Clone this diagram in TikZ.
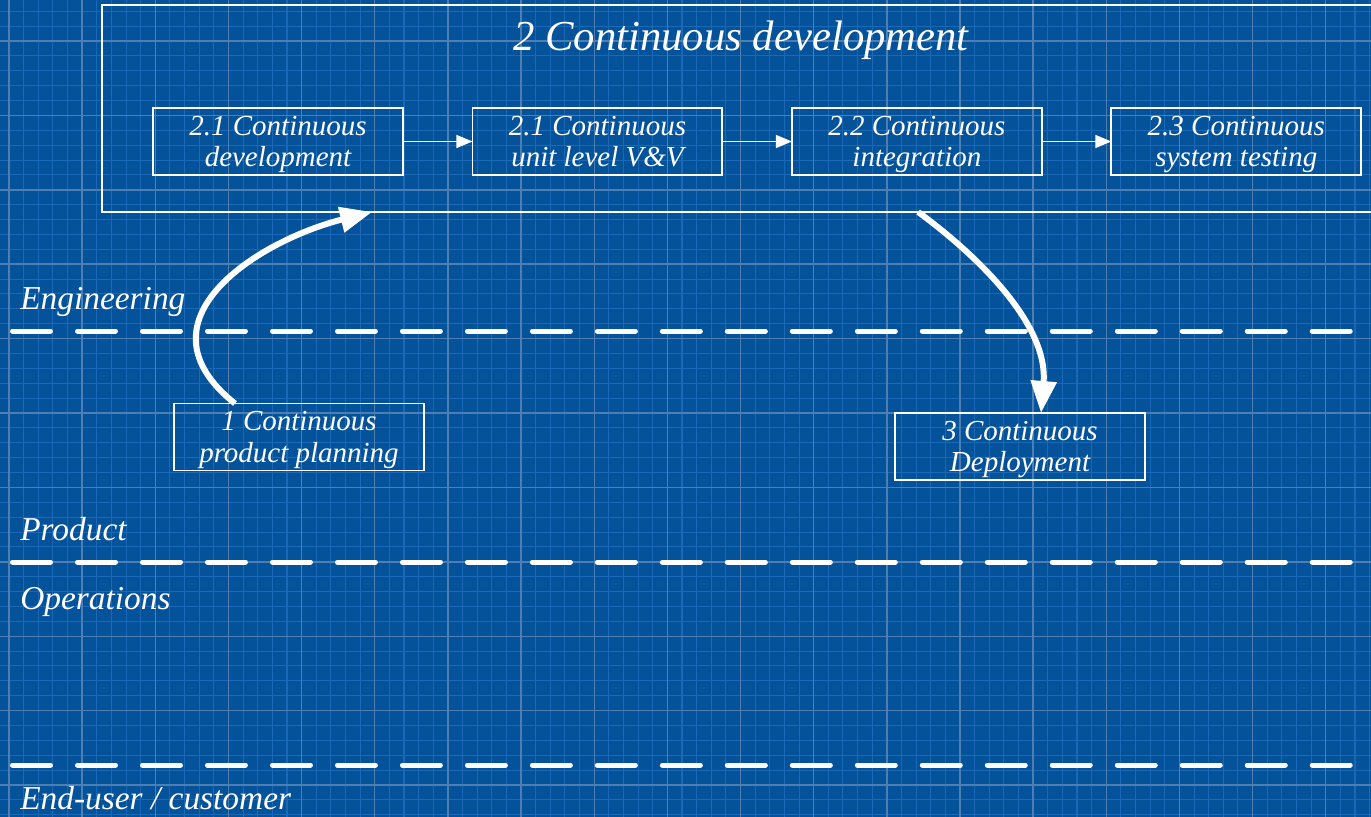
\documentclass[tikz,border=0pt]{standalone}
\usepackage{fontspec}
\setmainfont{Liberation Serif}
\usetikzlibrary{calc,positioning,arrows.meta}

\begin{document}
\begin{tikzpicture}[x=0.02cm,y=-0.02cm,
    bigBox/.style={draw=white,line width=1.1pt,minimum width=25.56cm,minimum height=4.14cm,inner sep=0pt,outer sep=0pt},
    titleText/.style={text=white,font=\fontsize{24.3}{28}\selectfont\itshape,inner sep=0pt},
    stepBox/.style={draw=white,line width=1.1pt,minimum width=5cm,minimum height=1.34cm,align=center,outer sep=0pt,
      text=white,font=\fontsize{16.5}{18}\selectfont\itshape,inner sep=0pt,text depth=0pt},
    laneLabel/.style={anchor=west,text=white,font=\fontsize{19}{22}\selectfont\itshape,inner sep=0pt},
    laneLine/.style={draw=white,line width=0.1cm,line cap=round,dash pattern=on 0.76cm off 0.54cm},
    thinArrow/.style={draw=white,line width=0.8pt,-{Triangle[length=0.32cm,width=0.26cm]}},
    bigArrow/.style={draw=white,line width=3.4pt,-{Triangle[length=0.64cm,width=0.5cm]}}]
  \definecolor{bpBlue}{HTML}{04529A}
  \definecolor{bpMinor}{HTML}{1A68B8}
  \definecolor{bpMajor}{HTML}{4E7FB2}

  \useasboundingbox (0,0) rectangle (1371,817);
  \clip (0,0) rectangle (1371,817);
  \fill[bpBlue] (0,0) rectangle (1371,817);

  % blueprint grid
  \foreach \i in {0,...,94}
    \draw[bpMinor,line width=0.6pt] ({9+14.63*\i},0) -- ++(0,817);
  \foreach \i in {0,...,58}
    \draw[bpMinor,line width=0.6pt] (0,{-33.4+14.88*\i}) -- ++(1371,0);
  \foreach \i in {0,...,18}
    \draw[bpMajor,line width=0.8pt] ({9+73.15*\i},0) -- ++(0,817);
  \foreach \i in {0,...,11}
    \draw[bpMajor,line width=0.8pt] (0,{-33.4+74.4*\i}) -- ++(1371,0);

  % lanes
  \draw[laneLine] (12.5,331) -- (1360,331);
  \draw[laneLine] (12.5,562) -- (1360,562);
  \draw[laneLine] (12.5,765) -- (1360,765);
  \node[laneLabel] (eng) at (20,302) {Engineering};
  \node[laneLabel] (prod) at (20,529) {Product};
  \node[laneLabel] (ops) at (20,602) {Operations};
  \node[laneLabel] (user) at (20,798) {End-user / customer};

  % continuous development block
  \node[bigBox] (cd) at (741,108.5) {};
  \node[titleText] (title) at (741,40) {2 Continuous development};
  \node[stepBox] (dev) at (278,141.5) {2.1 Continuous\\development};
  \node[stepBox,right=1.39cm of dev] (unit) {2.1 Continuous\\unit level V\&V};
  \node[stepBox,right=1.39cm of unit] (integ) {2.2 Continuous\\integration};
  \node[stepBox,right=1.39cm of integ] (systest) {2.3 Continuous\\system testing};
  \draw[thinArrow] (dev) -- (unit);
  \draw[thinArrow] (unit) -- (integ);
  \draw[thinArrow] (integ) -- (systest);

  % planning and deployment
  \node[stepBox] (plan) at (299,437) {1 Continuous\\product planning};
  \node[stepBox] (deploy) at (1020,446.5) {3 Continuous\\Deployment};
  \draw[bigArrow] ($(plan.north west)+(61,0)$) .. controls (130,320) and (260,240) .. ($(cd.south west)+(270,0)$);
  \draw[bigArrow] ($(cd.south west)+(816,0)$) .. controls (990,265) and (1048,330) .. ($(deploy.north)+(21,0)$);
\end{tikzpicture}
\end{document}
